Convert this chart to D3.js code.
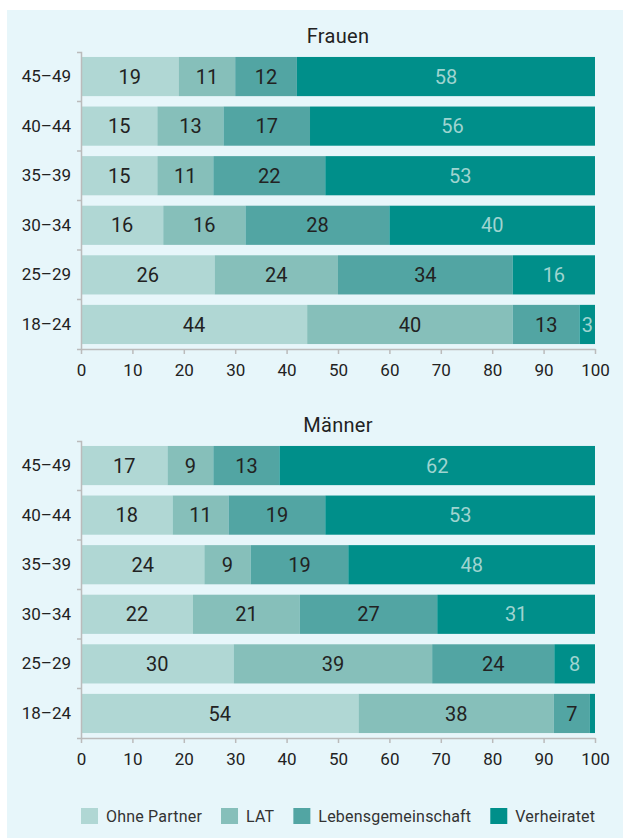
<!DOCTYPE html>
<html>
<head>
<meta charset="utf-8">
<script src="https://cdn.jsdelivr.net/npm/d3@7"></script>
<style>
  body { margin: 0; background: #fff; }
  svg { display: block; font-family: Roboto, "Liberation Sans", sans-serif; }
</style>
</head>
<body>
<script>
const ageGroups = ['45–49', '40–44', '35–39', '30–34', '25–29', '18–24'];
const categories = ['Ohne Partner', 'LAT', 'Lebensgemeinschaft', 'Verheiratet'];
const colors = ['#b0d7d4', '#86bfba', '#52a5a3', '#008f8a'];

// values per age group, in category order
const frauen = [
  [19, 11, 12, 58],
  [15, 13, 17, 56],
  [15, 11, 22, 53],
  [16, 16, 28, 40],
  [26, 24, 34, 16],
  [44, 40, 13, 3]
];
const maenner = [
  [17, 9, 13, 62],
  [18, 11, 19, 53],
  [24, 9, 19, 48],
  [22, 21, 27, 31],
  [30, 39, 24, 8],
  [54, 38, 7, 1]
];
const xTicks = d3.range(0, 101, 10);

const width = 623;
const height = 838;

const svg = d3.select('body').append('svg')
  .attr('width', width)
  .attr('height', height);

svg.append('rect')
  .attr('x', 7)
  .attr('y', 10)
  .attr('width', width - 7)
  .attr('height', height - 10)
  .attr('fill', '#e7f6fa');

const x = d3.scaleLinear().domain([0, 100]).range([81, 595]);
const color = d3.scaleOrdinal().domain(categories).range(colors);

function panel(title, values, top, bottom) {
  const rows = ageGroups.map((age, i) => {
    const row = { age };
    categories.forEach((c, j) => { row[c] = values[i][j]; });
    return row;
  });

  const y = d3.scaleBand()
    .domain(ageGroups)
    .range([top, bottom])
    .paddingInner(0.21)
    .paddingOuter(0.1);

  const stack = d3.stack()
    .keys(categories)
    .offset(d3.stackOffsetExpand);
  const series = stack(rows);

  const g = svg.append('g');

  g.append('text')
    .attr('x', (x.range()[0] + x.range()[1]) / 2)
    .attr('y', top - 9)
    .attr('text-anchor', 'middle')
    .attr('font-size', 20)
    .attr('letter-spacing', 0.3)
    .attr('fill', '#222')
    .text(title);

  const layer = g.append('g')
    .selectAll('g')
    .data(series)
    .join('g')
      .attr('fill', d => color(d.key));

  layer.selectAll('rect')
    .data(d => d)
    .join('rect')
      .attr('x', d => x(d[0] * 100))
      .attr('width', d => x(d[1] * 100) - x(d[0] * 100))
      .attr('y', d => y(d.data.age))
      .attr('height', y.bandwidth());

  layer.selectAll('text')
    .data(d => d.map(v => Object.assign({ key: d.key }, v)).filter(v => v.data[d.key] >= 3))
    .join('text')
      .attr('x', d => x((d[0] + d[1]) * 50))
      .attr('y', d => y(d.data.age) + y.bandwidth() / 2)
      .attr('dy', '0.36em')
      .attr('text-anchor', 'middle')
      .attr('font-size', 20)
      .attr('fill', d => d.key === 'Verheiratet' ? '#9fd4d0' : '#222')
      .text(d => d.data[d.key]);

  // y axis
  const yAxis = g.append('g')
    .attr('transform', `translate(${x.range()[0]},0)`)
    .call(d3.axisLeft(y).tickSize(0).tickSizeOuter(4).tickPadding(10));
  yAxis.select('.domain').attr('stroke', '#bbb').attr('stroke-width', 1.5);
  yAxis.selectAll('.tick text')
    .attr('font-size', 17)
    .attr('font-family', 'Roboto, sans-serif')
    .attr('fill', '#222');
  yAxis.selectAll('.sep')
    .data(d3.range(1, ageGroups.length))
    .join('line')
      .attr('class', 'sep')
      .attr('x1', -4)
      .attr('x2', 0)
      .attr('y1', i => top + i * (bottom - top) / ageGroups.length)
      .attr('y2', i => top + i * (bottom - top) / ageGroups.length)
      .attr('stroke', '#bbb')
      .attr('stroke-width', 1.5);

  // x axis
  const xAxis = g.append('g')
    .attr('transform', `translate(0,${bottom})`)
    .call(d3.axisBottom(x).tickValues(xTicks).tickSize(5).tickSizeOuter(0).tickPadding(10));
  xAxis.select('.domain').attr('stroke', '#bbb').attr('stroke-width', 1.5);
  xAxis.selectAll('.tick line').attr('stroke', '#bbb').attr('stroke-width', 1.5);
  xAxis.selectAll('.tick text')
    .attr('font-size', 17)
    .attr('font-family', 'Roboto, sans-serif')
    .attr('fill', '#222');
}

panel('Frauen', frauen, 52, 349);
panel('Männer', maenner, 441, 738);

// legend
const legend = svg.append('g').attr('transform', 'translate(81,808)');
let lx = 0;
categories.forEach(c => {
  const item = legend.append('g').attr('transform', `translate(${lx},0)`);
  item.append('rect')
    .attr('width', 17)
    .attr('height', 16)
    .attr('fill', color(c));
  const t = item.append('text')
    .attr('x', 25)
    .attr('y', 8)
    .attr('dy', '0.36em')
    .attr('font-size', 16)
    .attr('letter-spacing', 0.2)
    .attr('fill', '#333')
    .text(c);
  lx += 25 + t.node().getComputedTextLength() + 19;
});
</script>
</body>
</html>
